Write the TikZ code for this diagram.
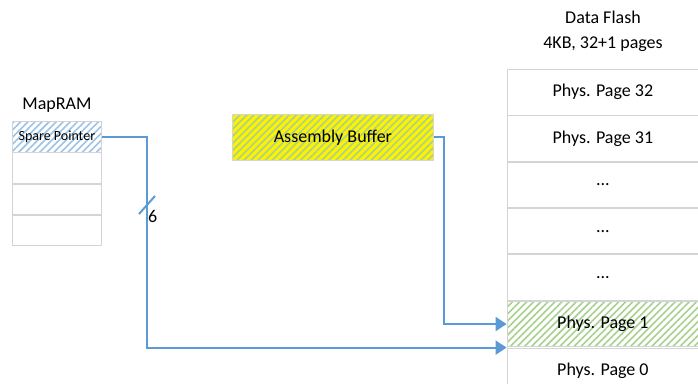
\documentclass[tikz,border=0pt]{standalone}
\usepackage{fontspec}
\setmainfont{Carlito}
\usepackage{xcolor}
\usepackage{tikz}
\usetikzlibrary{positioning,calc,arrows.meta,patterns.meta}
\definecolor{linkblue}{HTML}{5B9BD5}
\definecolor{hatchblue}{HTML}{9DC3E6}
\definecolor{hatchgreen}{HTML}{A9D18E}
\definecolor{cellgray}{HTML}{D4D4D4}
\tikzset{
  cell/.style      = {draw=cellgray, fill=white, line width=0.8pt, minimum width=191pt, minimum height=45.5pt, inner sep=0pt, font=\fontsize{18}{20}\selectfont, anchor=north west},
  mapcell/.style   = {draw=cellgray, fill=white, line width=0.8pt, minimum width=89pt, minimum height=30.5pt, inner sep=0pt, anchor=north west},
  hatchb/.style    = {preaction={fill=white}, pattern={Lines[angle=45,distance=5pt,line width=1.6pt]}, pattern color=hatchblue},
  hatchg/.style    = {preaction={fill=white}, pattern={Lines[angle=45,distance=5pt,line width=1.6pt]}, pattern color=hatchgreen},
  buffer/.style    = {draw=cellgray, line width=0.8pt, preaction={fill=yellow}, pattern={Lines[angle=45,distance=5pt,line width=1.6pt]}, pattern color=hatchgreen, minimum width=201pt, minimum height=46pt, inner sep=0pt, font=\fontsize{18}{20}\selectfont, anchor=north west},
  title/.style     = {font=\fontsize{18}{20}\selectfont, inner sep=0pt},
  link/.style      = {draw=linkblue, line width=2pt, -{Triangle[length=11pt,width=14pt]}},
}

\begin{document}
\begin{tikzpicture}[x=1pt,y=-1pt]
  \useasboundingbox (0,0) rectangle (698,383);

  % ---------- Data Flash pages ----------
  \node[title] (dftitle) at (603,17) {Data Flash};
  \node[title] (dfsize) at (603,44) {4KB, 32+1 pages};
  \node[cell] (page32) at (507,69) {Phys. Page 32};
  \node[cell, below=0pt of page32] (page31) {Phys. Page 31};
  \node[cell, below=0pt of page31] (dots1) {...};
  \node[cell, below=0pt of dots1] (dots2) {...};
  \node[cell, below=0pt of dots2] (dots3) {...};
  \node[cell, hatchg, below=0pt of dots3] (page1) {Phys. Page 1};
  \node[cell, below=0pt of page1] (page0) {Phys. Page 0};

  % ---------- MapRAM ----------
  \node[title] (maptitle) at (57,105) {MapRAM};
  \node[mapcell, hatchb, font=\fontsize{14}{16}\selectfont] (spare) at (12,121) {Spare Pointer};
  \node[mapcell, below=0pt of spare] (map1) {};
  \node[mapcell, below=0pt of map1] (map2) {};
  \node[mapcell, below=0pt of map2] (map3) {};

  % ---------- Assembly buffer ----------
  \node[buffer] (asmbuf) at (232,114) {Assembly Buffer};

  % ---------- connectors ----------
  \coordinate (bendA) at (147,0);
  \coordinate (bendB) at (444,0);
  \draw[link] (spare.east) -- (spare.east -| bendA) -- (bendA |- page1.south west) -- (page1.south west);
  \draw[link] (asmbuf.east) -- (asmbuf.east -| bendB) -- (bendB |- page1.west) -- (page1.west);

  % bus width mark
  \coordinate (tick) at (147,205);
  \draw[draw=linkblue, line width=2pt] ($(tick)+(-8,9)$) -- ($(tick)+(8,-9)$);
  \node[font=\fontsize{18}{20}\selectfont, anchor=west, inner sep=0pt] (width) at (148,216) {6};
\end{tikzpicture}
\end{document}
